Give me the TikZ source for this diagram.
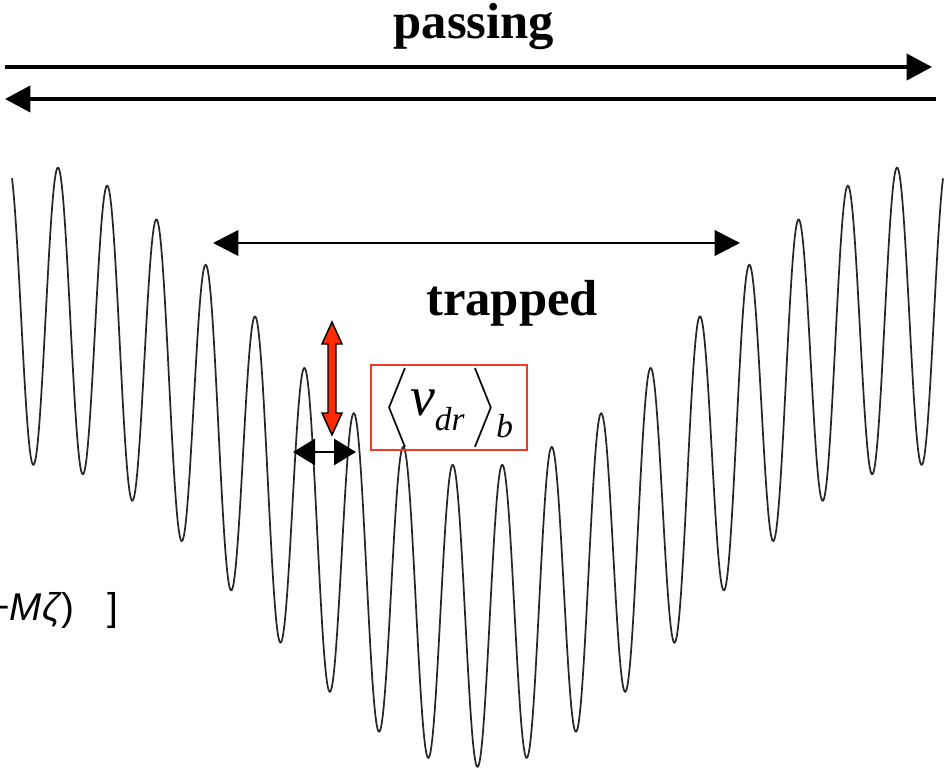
\documentclass[tikz,border=0pt]{standalone}
\usepackage{amsmath}
\usepackage{fontspec}
\setmainfont{Liberation Serif}
\newfontfamily\labelsans{Liberation Sans}
\usetikzlibrary{arrows.meta,positioning,calc}
\definecolor{boxred}{HTML}{EE3B24}
\definecolor{arrred}{HTML}{FF2B00}
\DeclareMathSizes{42}{42}{21}{16}

\begin{document}
\begin{tikzpicture}[x=0.75pt,y=-0.75pt,
  bigarrow/.style={line width=3pt,-{Triangle[length=19pt,width=19.5pt]}},
  midarrow/.style={line width=2.2pt,{Triangle[length=19pt,width=19pt]}-{Triangle[length=19pt,width=19pt]}},
  smallarrow/.style={line width=2.2pt,{Triangle[length=16.5pt,width=19.5pt]}-{Triangle[length=16.5pt,width=19.5pt]}},
  title/.style={font=\fontsize{38}{40}\selectfont\bfseries,inner sep=0pt,anchor=base},
  wave/.style={line width=1.3pt,black!85,line join=round}]
\useasboundingbox (0,0) rectangle (945,771);
\begin{scope}
\clip (0,0) rectangle (945,771);

% ripple on the well
\draw[wave] plot[domain=12:943,samples=900]
  (\x,{315+151*(1+cos(min(abs(\x-477.5),445)/445*180))+150*cos((\x-477.5)/49.35*360)});

% passing particles
\node[title] (passing) at (474,38) {passing};
\coordinate (pass-w) at (5,67);
\coordinate (pass-e) at (932,67);
\coordinate (back-e) at (936,99);
\coordinate (back-w) at (5,99);
\draw[bigarrow] (pass-w) -- (pass-e);
\draw[bigarrow] (back-e) -- (back-w);

% trapped particles
\coordinate (trap-w) at (213,243);
\coordinate (trap-e) at (740,243);
\draw[midarrow] (trap-w) -- (trap-e);
\node[title] (trapped) at (512,315) {trapped};

% bounce averaged drift
\draw[fill=arrred,draw=black,line width=1.1pt,line join=miter]
  (332,322) -- (342,344) -- (336,344) -- (336,413) -- (342,413) -- (332,435)
  -- (322,413) -- (328,413) -- (328,344) -- (322,344) -- cycle;
\coordinate (step-w) at (293,452);
\coordinate (step-e) at (356,452);
\draw[smallarrow] (step-w) -- (step-e);
\node[draw=boxred,line width=1.1pt,minimum width=117pt,minimum height=63.75pt,inner sep=0pt] (vdr) at (449,407.5)
  {\fontsize{42}{42}\selectfont$\left\langle\vrule height 35.25pt depth 14.25pt width 0pt\right.$\hspace{-1pt}\textit{v}\raisebox{-11pt}{\fontsize{25}{25}\selectfont\textit{dr}}\hspace{4pt}$\left.\vrule height 35.25pt depth 14.25pt width 0pt\right\rangle$\raisebox{-16pt}{\fontsize{25}{25}\selectfont\textit{b}}};

% cut off formula
\node[font=\labelsans\fontsize{29}{31}\selectfont,anchor=base west,inner sep=0pt] (shift) at (-13,620)
  {+\textit{M}\textit{ζ})\hspace{17pt} ]};
\end{scope}
\end{tikzpicture}
\end{document}
